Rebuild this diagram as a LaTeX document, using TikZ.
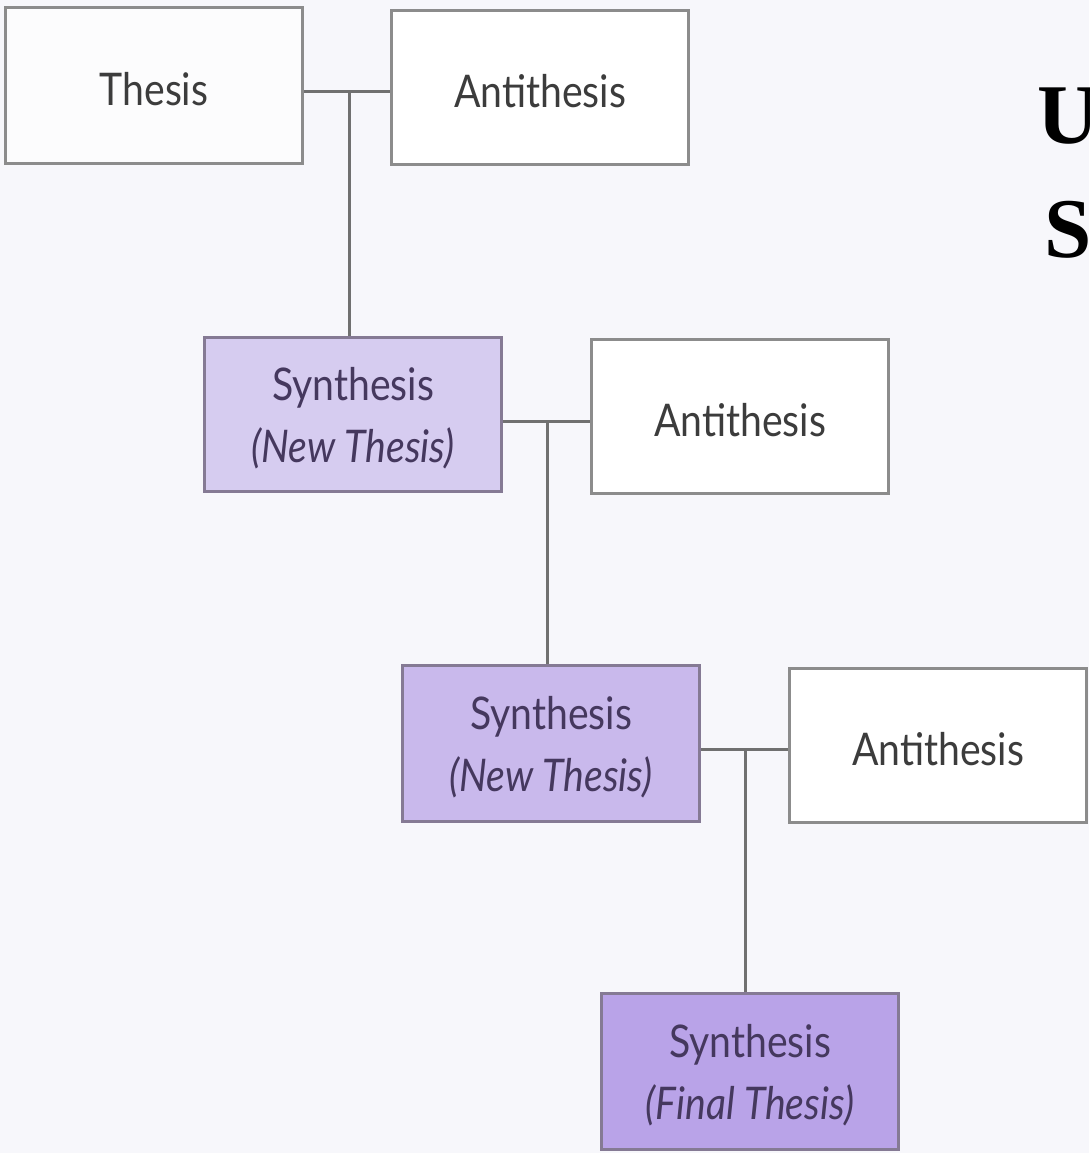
\documentclass[tikz,border=0pt]{standalone}
\usepackage{fontspec}
\setmainfont{Lato}[FakeStretch=0.87]
\newfontfamily\titlefont{Liberation Serif}
\definecolor{bgc}{HTML}{F7F7FB}
\definecolor{boxline}{HTML}{8C8C8C}
\definecolor{purpline}{HTML}{857A94}
\definecolor{linkc}{HTML}{707070}
\definecolor{txtc}{HTML}{3C3C3C}
\definecolor{purptxt}{HTML}{45385E}
\definecolor{synA}{HTML}{D6CCF0}
\definecolor{synB}{HTML}{C9B9EC}
\definecolor{synC}{HTML}{B9A3E8}
\newcommand{\lowr}[1]{\raisebox{-4pt}[\height][\depth]{#1}}
\tikzset{
  basebox/.style={rectangle, inner sep=0pt, line width=3pt, minimum width=297pt, minimum height=154pt,
    align=center, font=\fontsize{45}{62}\selectfont},
  plainbox/.style={basebox, draw=boxline, fill=white, text=txtc},
  synbox/.style={basebox, draw=purpline, text=purptxt},
  link/.style={draw=linkc, line width=3pt},
  bigletter/.style={anchor=base west, inner sep=0pt, font=\titlefont\bfseries\fontsize{85}{85}\selectfont, text=black}
}
\begin{document}
\begin{tikzpicture}[x=1pt,y=-1pt]
\useasboundingbox (0,0) rectangle (1089,1153);
\clip (0,0) rectangle (1089,1153);
\fill[bgc] (0,0) rectangle (1089,1153);
\node[plainbox, fill=white!60!bgc, minimum height=156pt] (thesis) at (154,85.5) {\lowr{Thesis}};
\node[plainbox] (anti1) at (540,87.5) {\lowr{Antithesis}};
\node[synbox, fill=synA] (syn1) at (353,414.5) {\lowr{Synthesis}\\\lowr{\textit{(New Thesis)}}};
\node[plainbox] (anti2) at (740,416.5) {\lowr{Antithesis}};
\node[synbox, fill=synB, minimum height=156pt] (syn2) at (551,743.5) {\lowr{Synthesis}\\\lowr{\textit{(New Thesis)}}};
\node[plainbox] (anti3) at (938,745) {\lowr{Antithesis}};
\node[synbox, fill=synC, minimum height=156pt] (syn3) at (750,1071.5) {\lowr{Synthesis}\\\lowr{\textit{(Final Thesis)}}};
\coordinate (j1) at (349,92);
\coordinate (j2) at (547,421);
\coordinate (j3) at (745,749);
\draw[link] (thesis.east |- j1) -- (anti1.west |- j1);
\draw[link] (j1) -- (j1 |- syn1.north);
\draw[link] (syn1.east |- j2) -- (anti2.west |- j2);
\draw[link] (j2) -- (j2 |- syn2.north);
\draw[link] (syn2.east |- j3) -- (anti3.west |- j3);
\draw[link] (j3) -- (j3 |- syn3.north);
\node[bigletter] (tu) at (1037,143) {U};
\node[bigletter] (ts) at (1044,257) {S};
\end{tikzpicture}
\end{document}
